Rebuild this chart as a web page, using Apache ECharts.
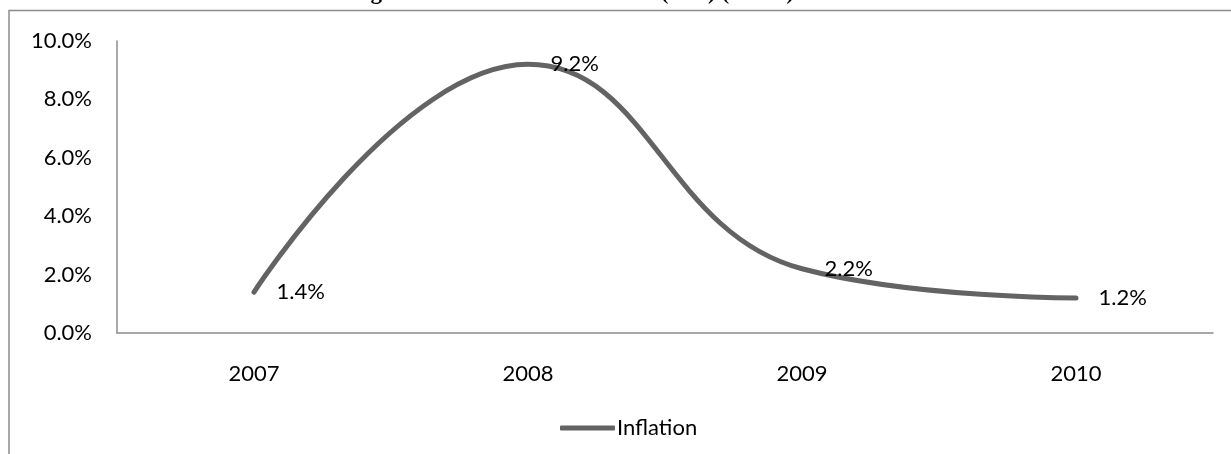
<!DOCTYPE html>
<html>
<head>
<meta charset="utf-8">
<script src="https://cdn.jsdelivr.net/npm/echarts@6/dist/echarts.min.js"></script>
<style>html,body{margin:0;padding:0;background:#fff}#c{width:1231px;height:454px}</style>
</head>
<body>
<div id="c"></div>
<script>
var titleText = 'Figure 5: Evolution of inflation (rate) (HIPC)';
var categories = ['2007', '2008', '2009', '2010'];
var seriesName = 'Inflation';
var inflation = [1.4, 9.2, 2.2, 1.2];
var yTicks = [0, 2, 4, 6, 8, 10];

var chart = echarts.init(document.getElementById('c'));
var font = 'Lato';
chart.setOption({
  animation: false,
  backgroundColor: '#fff',
  title: {
    text: titleText,
    left: 345,
    top: -23,
    textStyle: {fontFamily: 'Liberation Serif', fontWeight: 'bold', fontSize: 23, color: '#000'}
  },
  graphic: [{
    type: 'polyline',
    shape: {points: [[9, 454], [9, 10.5], [1231, 10.5]]},
    style: {stroke: '#8c8c8c', lineWidth: 1.5, fill: null},
    z: 100
  }, {
    type: 'rect',
    shape: {x: 9, y: 11.5, width: 1222, height: 6},
    style: {fill: '#fff'},
    z: 99
  }],
  grid: {left: 117, right: 18, top: 41, bottom: 121},
  legend: {
    data: [{name: seriesName, icon: 'roundRect'}],
    left: 555,
    top: 412,
    itemWidth: 55,
    itemHeight: 5,
    itemGap: 10,
    itemStyle: {color: '#636363'},
    textStyle: {fontFamily: font, fontSize: 22, color: '#000', padding: [0, 0, 0, -3]}
  },
  xAxis: {
    type: 'category',
    data: categories,
    boundaryGap: true,
    axisLine: {lineStyle: {color: '#8c8c8c', width: 1.5}},
    axisTick: {show: false},
    axisLabel: {fontFamily: font, fontSize: 22, color: '#000', margin: 30}
  },
  yAxis: {
    type: 'value',
    min: yTicks[0],
    max: yTicks[yTicks.length - 1],
    interval: yTicks[1] - yTicks[0],
    axisLine: {show: true, lineStyle: {color: '#8c8c8c', width: 1.5}},
    axisTick: {show: false},
    splitLine: {show: false},
    axisLabel: {
      fontFamily: font, fontSize: 22, color: '#000', margin: 25,
      formatter: function (v) { return v.toFixed(1) + '%'; }
    }
  },
  series: [{
    name: seriesName,
    type: 'line',
    data: inflation,
    smooth: 0.45,
    symbol: 'circle',
    symbolSize: 1,
    showSymbol: true,
    lineStyle: {color: '#636363', width: 5, cap: 'round'},
    itemStyle: {color: 'rgba(0,0,0,0)'},
    label: {
      show: true,
      position: 'right',
      distance: 22,
      fontFamily: font,
      fontSize: 22,
      color: '#000',
      formatter: function (p) { return p.value.toFixed(1) + '%'; }
    }
  }]
});
</script>
</body>
</html>
